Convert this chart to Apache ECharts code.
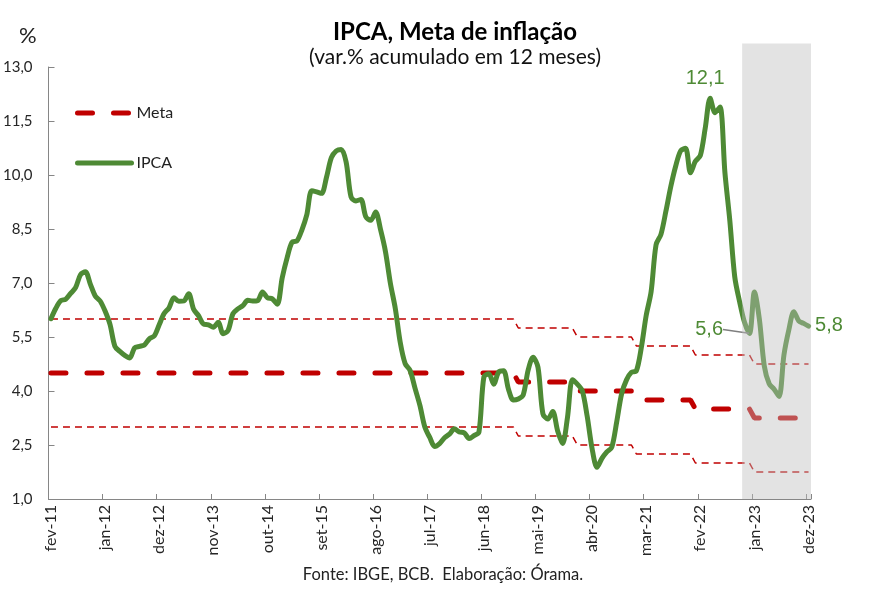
<!DOCTYPE html>
<html><head><meta charset="utf-8">
<script src="https://cdn.jsdelivr.net/npm/echarts@6/dist/echarts.min.js"></script>
<style>html,body{margin:0;padding:0;background:#fff}#c{width:886px;height:591px}</style>
</head><body><div id="c"></div>
<script>
// ---- categories (months fev-11 .. dez-23)
const monthNames = ['jan','fev','mar','abr','mai','jun','jul','ago','set','out','nov','dez'];
const firstYear = 2011, firstMonth = 1, lastYear = 2023, lastMonth = 11;
const categories = [];
const catYear = [];
for (let y = firstYear; y <= lastYear; y++) {
  for (let m = 0; m < 12; m++) {
    if (y === firstYear && m < firstMonth) continue;
    if (y === lastYear && m > lastMonth) continue;
    categories.push(monthNames[m] + '-' + String(y).slice(2));
    catYear.push(y);
  }
}

// ---- IPCA, 12-month accumulated (%)
const ipca2011 = [6.01, 6.30, 6.51, 6.55, 6.71, 6.87, 7.23, 7.31, 6.97, 6.64, 6.50];
const ipca2012 = [6.22, 5.85, 5.24, 5.10, 4.99, 4.92, 5.20, 5.24, 5.28, 5.45, 5.53, 5.84];
const ipca2013 = [6.15, 6.31, 6.59, 6.49, 6.50, 6.70, 6.27, 6.09, 5.86, 5.84, 5.77, 5.91];
const ipca2014 = [5.59, 5.68, 6.15, 6.28, 6.37, 6.52, 6.50, 6.51, 6.75, 6.59, 6.56, 6.41];
const ipca2015 = [7.14, 7.70, 8.13, 8.17, 8.47, 8.89, 9.56, 9.53, 9.49, 9.93, 10.48, 10.67];
const ipca2016 = [10.71, 10.36, 9.39, 9.28, 9.32, 8.84, 8.74, 8.97, 8.48, 7.87, 6.99, 6.29];
const ipca2017 = [5.35, 4.76, 4.57, 4.08, 3.60, 3.00, 2.71, 2.46, 2.54, 2.70, 2.80, 2.95];
const ipca2018 = [2.86, 2.84, 2.68, 2.76, 2.86, 4.39, 4.48, 4.19, 4.53, 4.56, 4.05, 3.75];
const ipca2019 = [3.78, 3.89, 4.58, 4.94, 4.66, 3.37, 3.22, 3.43, 2.89, 2.54, 3.27, 4.31];
const ipca2020 = [4.19, 4.01, 3.30, 2.40, 1.88, 2.13, 2.31, 2.44, 3.14, 3.92, 4.31, 4.52];
const ipca2021 = [4.56, 5.20, 6.10, 6.76, 8.06, 8.35, 8.99, 9.68, 10.25, 10.67, 10.74, 10.06];
const ipca2022 = [10.38, 10.54, 11.30, 12.13, 11.73, 11.89, 10.07, 8.73, 7.17, 6.47, 5.90, 5.60];
const ipca2023 = [6.75, 6.00, 4.70, 4.20, 4.05, 3.85, 5.00, 5.70, 6.20, 5.95, 5.88, 5.80];
const ipca = [].concat(ipca2011, ipca2012, ipca2013, ipca2014, ipca2015, ipca2016, ipca2017,
                       ipca2018, ipca2019, ipca2020, ipca2021, ipca2022, ipca2023);

// ---- inflation target (Meta) per year, with band
const metaYears  = [2011, 2012, 2013, 2014, 2015, 2016, 2017, 2018, 2019, 2020, 2021, 2022, 2023];
const metaCenter = [4.5, 4.5, 4.5, 4.5, 4.5, 4.5, 4.5, 4.5, 4.25, 4.0, 3.75, 3.5, 3.25];
const metaUpper  = [6.0, 6.0, 6.0, 6.0, 6.0, 6.0, 6.0, 6.0, 5.75, 5.5, 5.25, 5.0, 4.75];
const metaLower  = [3.0, 3.0, 3.0, 3.0, 3.0, 3.0, 3.0, 3.0, 2.75, 2.5, 2.25, 2.0, 1.75];

// ---- y-axis ticks
const yMin = 1.0, yMax = 13.0, yStep = 1.5;

// ---- annotated points and projection shading
const annotations = [
  { month: 'abr-22', position: 'top' },
  { month: 'dez-22', position: 'left' },
  { month: 'dez-23', position: 'right' }
];
const shadeFrom = 'nov-22';

const GREEN = '#4e8a35', RED = '#c00000';
const FONT = 'Lato';
const NUMFONT = 'Liberation Sans';
const fmt = v => v.toFixed(1).replace('.', ',');

const byYear = arr => catYear.map(y => arr[metaYears.indexOf(y)]);

const ipcaData = ipca.map((v, i) => {
  const a = annotations.find(x => x.month === categories[i]);
  if (!a) return v;
  const item = {
    value: v, symbol: 'circle', symbolSize: 1,
    label: {
      show: true, position: a.position, formatter: fmt(v),
      color: GREEN, fontFamily: NUMFONT, fontSize: 20,
      distance: a.position === 'left' ? 26 : (a.position === 'top' ? 9 : 6),
      offset: a.position === 'top' ? [-5, 0] : (a.position === 'left' ? [0, -4] : [0, -1])
    }
  };
  if (a.position === 'left') {
    item.labelLine = { show: true, lineStyle: { color: '#7f7f7f', width: 1.5 } };
  }
  return item;
});

const chart = echarts.init(document.getElementById('c'), null, { renderer: 'canvas' });
chart.setOption({
  animation: false,
  backgroundColor: '#fff',
  textStyle: { fontFamily: FONT },
  title: {
    text: 'IPCA, Meta de inflação',
    subtext: '(var.% acumulado em 12 meses)',
    left: 450, top: 15, textAlign: 'center', itemGap: 3,
    textStyle: { fontFamily: FONT, fontSize: 24, fontWeight: 'bold', color: '#000' },
    subtextStyle: { fontFamily: FONT, fontSize: 21, color: '#111' }
  },
  legend: {
    orient: 'vertical', left: 70, top: 100, itemWidth: 54, itemHeight: 20, itemGap: 34,
    textStyle: { fontFamily: FONT, fontSize: 16, color: '#222' },
    lineStyle: { width: 5, cap: 'round' },
    itemStyle: { opacity: 0 },
    data: ['Meta', 'IPCA']
  },
  grid: { left: 48, right: 75, top: 67, bottom: 92 },
  xAxis: {
    type: 'category', data: categories, boundaryGap: true,
    axisLine: { lineStyle: { color: '#868686', width: 1 } },
    axisTick: { show: true, inside: true, length: 5, interval: 10, lineStyle: { color: '#868686' } },
    axisLabel: { interval: 10, rotate: 90, margin: 6, fontSize: 16, color: '#262626', fontFamily: FONT },
    splitLine: { show: false }
  },
  yAxis: {
    type: 'value', min: yMin, max: yMax, interval: yStep,
    axisLine: { show: true, lineStyle: { color: '#868686', width: 1 } },
    axisTick: { show: true, inside: true, length: 6, lineStyle: { color: '#868686' } },
    axisLabel: { formatter: fmt, margin: 16, fontSize: 15, color: '#262626', fontFamily: FONT },
    splitLine: { show: false }
  },
  series: [
    { name: 'Meta sup', type: 'line', data: byYear(metaUpper), symbol: 'none', z: 2,
      lineStyle: { color: RED, width: 1.5, type: [7, 5] } },
    { name: 'Meta inf', type: 'line', data: byYear(metaLower), symbol: 'none', z: 2,
      lineStyle: { color: RED, width: 1.5, type: [7, 5] } },
    { name: 'Meta', type: 'line', data: byYear(metaCenter), symbol: 'none', z: 3, color: RED,
      lineStyle: { color: RED, width: 5, type: [15, 21], cap: 'round' } },
    { name: 'IPCA', type: 'line', data: ipcaData, symbol: 'none', showSymbol: true, showAllSymbol: true,
      z: 4, color: GREEN, smooth: 0.3,
      lineStyle: { color: GREEN, width: 5, cap: 'round', join: 'round' } }
  ]
});

// projection shading, positioned from the axes' scales
const px = v => chart.convertToPixel({ xAxisIndex: 0 }, v);
const band = px(categories[1]) - px(categories[0]);
const x0 = px(shadeFrom) - band / 2;
const x1 = px(categories[categories.length - 1]) + band / 2;
const yTop = chart.convertToPixel({ yAxisIndex: 0 }, 13.65);
const yBot = chart.convertToPixel({ yAxisIndex: 0 }, yMin);
chart.setOption({
  graphic: [
    { type: 'text', left: 19, top: 25,
      style: { text: '%', fontSize: 22, fontFamily: FONT, fill: '#222' } },
    { type: 'text', left: 'center', top: 566,
      style: { text: 'Fonte: IBGE, BCB.  Elaboração: Órama.', fontSize: 16.5, fontFamily: FONT, fill: '#222' } },
    { type: 'rect', z: 100, silent: true,
      shape: { x: x0, y: yTop, width: x1 - x0, height: yBot - yTop },
      style: { fill: 'rgba(190,190,190,0.43)' } }
  ]
});
</script></body></html>
